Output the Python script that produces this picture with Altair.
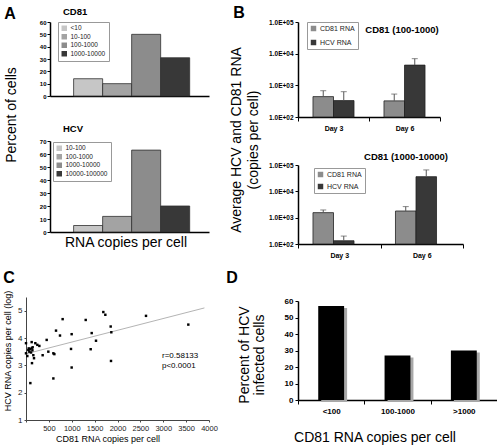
import altair as alt
import pandas as pd

FONT = "Liberation Sans"

# ---- Panel A: percent of cells in each RNA copy-number bin ----
cd81_bins = ["<10", "10-100", "100-1000", "1000-10000"]
cd81_pct = [14, 10, 50, 31]
hcv_bins = ["10-100", "100-1000", "1000-10000", "10000-100000"]
hcv_pct = [5, 12, 63, 20]
bin_colors = ["#c6c6c6", "#a3a3a3", "#8c8c8c", "#383838"]

# ---- Panel B: average RNA copies per cell with upper error bars ----
days = ["Day 3", "Day 6"]
rna_kinds = ["CD81 RNA", "HCV RNA"]
b1_cd81 = [440, 323]
b1_cd81_hi = [676, 530]
b1_hcv = [330, 4350]
b1_hcv_hi = [630, 6950]
b2_cd81 = [1550, 1790]
b2_cd81_hi = [1960, 2630]
b2_hcv = [133, 36000]
b2_hcv_hi = [200, 65000]
rna_colors = ["#8c8c8c", "#383838"]

# ---- Panel C: HCV vs CD81 RNA per cell ----
c_cd81 = [0, 124, 204, 248, 292, 51, 88, 124, 146, 73, 110, 29, 160, 175, 131,
          95, 364, 452, 488, 598, 620, 598, 656, 743, 801, 998, 984, 998, 1305,
          1436, 1414, 1530, 1690, 1734, 1851, 1865, 1858, 2623, 3548, 0, 140, 60]
c_hcv = [3.81, 3.85, 3.81, 3.75, 3.71, 3.56, 3.59, 3.63, 3.66, 3.50, 3.47, 3.34,
         3.37, 3.26, 3.08, 2.35, 3.37, 3.93, 3.50, 3.44, 3.41, 2.52, 4.27, 4.09,
         4.69, 4.14, 3.60, 2.92, 4.66, 4.18, 3.59, 3.90, 4.95, 4.85, 4.42, 4.21,
         3.16, 4.81, 4.49, 3.44, 3.55, 3.62]
fit_cd81 = [0, 3900]
fit_hcv = [3.42, 5.10]
stat_lines = ["r=0.58133", "p<0.0001"]

# ---- Panel D: percent of HCV infected cells ----
d_bins = ["<100", "100-1000", ">1000"]
d_pct = [57, 27, 30]


def label(text, x, y, size, bold=False, angle=0, align="center"):
    return alt.Chart(pd.DataFrame({"t": [text]})).mark_text(
        font=FONT, fontSize=size, fontWeight="bold" if bold else "normal",
        angle=angle, align=align, baseline="middle", color="black",
    ).encode(text="t:N", x=alt.value(x), y=alt.value(y))


def bold_axis(**kw):
    opts = dict(title=None, grid=False, labelFont=FONT, labelFontWeight="bold",
                labelColor="black", domainColor="black", domainWidth=1.5,
                tickColor="black", tickWidth=1, labelOverlap=False)
    opts.update(kw)
    return alt.Axis(**opts)


def box_legend(x, y, size, row_pad):
    return alt.Legend(title=None, orient="none", legendX=x, legendY=y,
                      symbolType="square", symbolSize=30, symbolStrokeWidth=0,
                      labelFont=FONT, labelFontSize=size, labelColor="#222",
                      labelOffset=3, rowPadding=row_pad, padding=3,
                      strokeColor="#999999", fillColor="white")


def dist_panel(bins, pct, ymax, leg_x, leg_y):
    df = pd.DataFrame({"bin": bins, "pct": pct})
    return alt.Chart(df).mark_bar(stroke="#303030", strokeWidth=0.8).encode(
        x=alt.X("bin:N", sort=bins,
                scale=alt.Scale(paddingInner=0, paddingOuter=0.74, align=0.55),
                axis=bold_axis(labels=False, ticks=False)),
        y=alt.Y("pct:Q", scale=alt.Scale(domain=[0, ymax]),
                axis=bold_axis(values=list(range(0, ymax + 1, 10)),
                               labelFontSize=6, tickSize=3, labelPadding=1)),
        color=alt.Color("bin:N", sort=bins,
                        scale=alt.Scale(domain=bins, range=bin_colors),
                        legend=box_legend(leg_x, leg_y, 6.5, 1.5)),
    )


a1 = alt.layer(
    dist_panel(cd81_bins, cd81_pct, 60, 8, 0),
    label("A", -40, -8, 16, bold=True),
    label("CD81", 13, -10, 9.5, bold=True, align="left"),
    label("Percent of cells", -38, 93, 14, angle=270),
).properties(width=159, height=74)

a2 = alt.layer(
    dist_panel(hcv_bins, hcv_pct, 70, 3, 1),
    label("HCV", 13, -12, 9.5, bold=True, align="left"),
    label("RNA copies per cell", 76, 102, 14),
).properties(width=159, height=91)


def rna_panel(cd81, cd81_hi, hcv, hcv_hi, width, height, top, sub_pad,
              leg_x, leg_y, row_pad):
    df = pd.DataFrame({
        "day": days * 2,
        "rna": [rna_kinds[0]] * 2 + [rna_kinds[1]] * 2,
        "mean": cd81 + hcv,
        "hi": cd81_hi + hcv_hi,
    })
    yscale = alt.Scale(type="log", domain=[100, 100000], range=[height, top])
    base = alt.Chart(df).encode(
        x=alt.X("day:N", sort=days,
                scale=alt.Scale(paddingInner=0, paddingOuter=0),
                axis=bold_axis(tickBand="extent", labelAngle=0, labelFontSize=7,
                               tickSize=4, labelPadding=3)),
        xOffset=alt.XOffset("rna:N", sort=rna_kinds,
                            scale=alt.Scale(paddingInner=0, paddingOuter=sub_pad)),
    )
    bars = base.mark_bar(stroke="#222", strokeWidth=0.8).encode(
        y=alt.Y("mean:Q", scale=yscale,
                axis=bold_axis(values=[100, 1000, 10000, 100000],
                               labelExpr="'1.0E+0' + round(log(datum.value) / LN10)",
                               labelFontSize=6.5, tickSize=3, labelPadding=2)),
        y2=alt.datum(100),
        color=alt.Color("rna:N", sort=rna_kinds,
                        scale=alt.Scale(domain=rna_kinds, range=rna_colors),
                        legend=box_legend(leg_x, leg_y, 7, row_pad)),
    )
    whisker = base.mark_rule(color="#555555", strokeWidth=1).encode(
        y="mean:Q", y2="hi:Q")
    cap = base.mark_tick(color="#555555", thickness=1, size=6).encode(y="hi:Q")
    return alt.layer(bars, whisker, cap).properties(width=width, height=height)


b1 = alt.layer(
    rna_panel(b1_cd81, b1_cd81_hi, b1_hcv, b1_hcv_hi, 142, 95, 0, 0.73, 9, 0, 6),
    label("B", -59, -9, 16, bold=True),
    label("CD81 (100-1000)", 104, 8, 9.5, bold=True),
    label("Average HCV and CD81 RNA", -61, 118, 14, angle=270),
    label("(copies per cell)", -44, 118, 14, angle=270),
).properties(width=142, height=95)

b2 = alt.layer(
    rna_panel(b2_cd81, b2_cd81_hi, b2_hcv, b2_hcv_hi, 165, 103, 24, 0.755, 16, 27, 4),
    label("CD81 (1000-10000)", 108, 16, 9.5, bold=True),
).properties(width=165, height=103)

# Panel C: scatter with fitted line; both layers carry the same axis settings
c_df = pd.DataFrame({"cd81": c_cd81, "hcv": c_hcv})
fit_df = pd.DataFrame({"cd81": fit_cd81, "hcv": fit_hcv})
c_x = alt.X("cd81:Q", scale=alt.Scale(domain=[0, 4000], range=[-24, 159]),
            axis=alt.Axis(title=None, grid=False, values=list(range(0, 4001, 500)),
                          format="d", labelExpr="datum.value == 0 ? '' : datum.label",
                          labelOverlap=False, labelFlush=False, labelFont=FONT,
                          labelFontSize=7.5, labelColor="#222", domainColor="#444",
                          tickColor="#444", tickSize=2, labelPadding=2))
c_y = alt.Y("hcv:Q", scale=alt.Scale(domain=[1, 5.5], range=[152, 29]),
            axis=alt.Axis(title=None, grid=False, values=[1, 2, 3, 4, 5], offset=24,
                          labelOverlap=False, labelFlush=False, labelFont=FONT,
                          labelFontSize=8, labelColor="#222", domainColor="#444",
                          tickColor="#444", tickSize=2, labelPadding=2))
fit = alt.Chart(fit_df).mark_line(color="#b4b4b4", strokeWidth=1).encode(x=c_x, y=c_y)
pts = alt.Chart(c_df).mark_square(size=6, color="black", opacity=1).encode(x=c_x, y=c_y)
c = alt.layer(
    fit, pts,
    label("C", -41, 10, 16, bold=True),
    label("HCV RNA copies per cell (log)", -42, 83, 9, angle=270),
    label("CD81 RNA copies per cell", 58, 171, 9),
    label(stat_lines[0], 112, 88, 8, align="left"),
    label(stat_lines[1], 112, 98, 8, align="left"),
).properties(width=159, height=152)

# Panel D
d_df = pd.DataFrame({"bin": d_bins, "pct": d_pct})
d_x = alt.X("bin:N", sort=d_bins, scale=alt.Scale(paddingInner=0, paddingOuter=0),
            axis=bold_axis(tickBand="extent", labelAngle=0, labelFontSize=8,
                           tickSize=4, labelPadding=3))
d_y = alt.Y("pct:Q", scale=alt.Scale(domain=[0, 60], range=[132, 33]),
            axis=bold_axis(values=list(range(0, 61, 10)), labelFontSize=8,
                           tickSize=3, labelPadding=2))
shadow = alt.Chart(d_df).mark_bar(color="#a8a8a8", width=alt.RelativeBandSize(0.39),
                                  xOffset=3, yOffset=2).encode(x=d_x, y=d_y)
d_bars = alt.Chart(d_df).mark_bar(color="black", width=alt.RelativeBandSize(0.39)).encode(
    x=d_x, y=d_y)
d = alt.layer(
    shadow, d_bars,
    label("D", -66, 10, 16, bold=True),
    label("Percent of HCV", -53, 87, 14, angle=270),
    label("infected cells", -38, 87, 14, angle=270),
    label("CD81 RNA copies per cell", 77, 170, 14),
).properties(width=199, height=132)

chart = alt.concat(
    a1, b1, a2, b2, c, d,
    columns=2, spacing={"row": 24, "column": 89}, bounds="flush", align="each",
).resolve_scale(
    color="independent", x="independent", y="independent",
).properties(
    autosize=alt.AutoSizeParams(type="none"),
    padding={"left": 50, "top": 22, "right": 447, "bottom": 426},
    background="white",
).configure_view(stroke=None)

chart.save("out.html", embed_options={"renderer": "svg", "actions": False})
